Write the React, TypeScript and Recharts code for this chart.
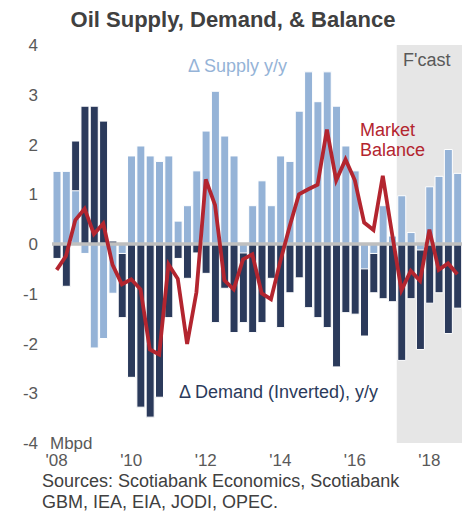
import React from "react";
import {
  ComposedChart,
  Bar,
  Line,
  XAxis,
  YAxis,
  ReferenceLine,
  ReferenceArea,
} from "recharts";

const quarters = [
  "2008Q1", "2008Q2", "2008Q3", "2008Q4",
  "2009Q1", "2009Q2", "2009Q3", "2009Q4",
  "2010Q1", "2010Q2", "2010Q3", "2010Q4",
  "2011Q1", "2011Q2", "2011Q3", "2011Q4",
  "2012Q1", "2012Q2", "2012Q3", "2012Q4",
  "2013Q1", "2013Q2", "2013Q3", "2013Q4",
  "2014Q1", "2014Q2", "2014Q3", "2014Q4",
  "2015Q1", "2015Q2", "2015Q3", "2015Q4",
  "2016Q1", "2016Q2", "2016Q3", "2016Q4",
  "2017Q1", "2017Q2", "2017Q3", "2017Q4",
  "2018Q1", "2018Q2", "2018Q3", "2018Q4",
];

// Δ Supply y/y (Mbpd)
const supply = [
  1.46, 1.46, 1.07, -0.19, -2.09, -1.9, -0.99, -0.19, 1.77, 1.97,
  1.77, 1.66, 1.77, 0.46, 0.77, 1.47, 2.27, 3.07, 2.17, 1.77,
  -0.18, 0.77, 1.27, 0.77, 1.77, 1.66, 2.67, 3.46, 2.86, 3.46,
  2.77, 1.97, 1.47, -0.5, -0.19, 0.77, 0.16, 0.97, 0.23, -0.12,
  1.15, 1.36, 1.9, 1.42,
];

// Δ Demand (Inverted), y/y (Mbpd)
const demandInverted = [
  -0.29, -0.85, 2.07, 2.77, 2.77, 2.47, 0.06, -1.48, -2.68, -3.28,
  -3.48, -3.08, -1.48, -0.29, -0.69, -0.18, -0.59, -1.58, -0.89, -1.78,
  -1.58, -1.78, -1.58, -0.69, -1.68, -0.98, -0.68, -1.28, -1.48, -1.68,
  -2.47, -1.38, -1.41, -1.85, -0.98, -1.1, -1.16, -2.34, -1.1, -2.12,
  -1.19, -0.98, -1.8, -1.29,
];

// Market Balance (Mbpd)
const balance = [
  -0.52, -0.24, 0.48, 0.71, 0.2, 0.41, -0.42, -0.81, -0.71, -0.91,
  -2.12, -2.22, -0.41, -0.7, -2.01, -0.97, 1.3, 0.78, -0.73, -0.91,
  -0.31, -0.21, -0.99, -1.11, -0.35, 0.35, 1.0, 1.1, 1.19, 2.3,
  1.28, 1.7, 1.28, 0.43, 0.28, 1.37, 0.2, -0.93, -0.54, -0.74,
  0.29, -0.52, -0.39, -0.61,
];

const xTickCats = ["2008Q1", "2010Q1", "2012Q1", "2014Q1", "2016Q1", "2018Q1"];
const xTickText = ["'08", "'10", "'12", "'14", "'16", "'18"];
const yTicks = [-4, -3, -2, -1, 0, 1, 2, 3, 4];
const forecastStart = "2017Q2";
const forecastEnd = "2018Q4";

const data = quarters.map((q, i) => ({
  q,
  supply: supply[i],
  demand: demandInverted[i],
  balance: balance[i],
}));

const FONT = "'Liberation Sans', Arial, sans-serif";
const LIGHT = "#95b3d7";
const NAVY = "#2b3a5b";
const RED = "#b3252f";
const GREY_TXT = "#595959";

export default function App() {
  return (
    <div style={{ position: "absolute", left: 0, top: 0, width: 466, height: 517, background: "#fff" }}>
      <ComposedChart
        width={466}
        height={517}
        data={data}
        margin={{ top: 45, right: 4, bottom: 44, left: 0 }}
        barGap={-8}
      >
        <ReferenceArea
          x1={forecastStart}
          x2={forecastEnd}
          y1={-4}
          y2={4}
          fill="#e6e6e6"
          fillOpacity={1}
          stroke="none"
          ifOverflow="extendDomain"
        />
        <XAxis
          dataKey="q"
          ticks={xTickCats}
          interval={0}
          tickFormatter={(v: string) => xTickText[xTickCats.indexOf(v)] ?? ""}
          axisLine={false}
          tickLine={false}
          tickSize={6}
          tickMargin={5}
          height={30}
          tick={{ fill: GREY_TXT, fontSize: 17, fontFamily: FONT }}
        />
        <YAxis
          domain={[-4, 4]}
          ticks={yTicks}
          width={52}
          axisLine={false}
          tickLine={false}
          tickSize={6}
          tickMargin={8}
          interval={0}
          tick={{ fill: GREY_TXT, fontSize: 17, fontFamily: FONT }}
        />
        <Bar dataKey="demand" fill={NAVY} stroke="#ffffff" strokeWidth={1} barSize={8} isAnimationActive={false} />
        <Bar dataKey="supply" fill={LIGHT} stroke="#ffffff" strokeWidth={1} barSize={8} isAnimationActive={false} />
        <ReferenceLine y={0} stroke="#bfbfbf" strokeWidth={3.5} />
        <Line
          type="linear"
          dataKey="balance"
          stroke={RED}
          strokeWidth={3.8}
          dot={false}
          activeDot={false}
          isAnimationActive={false}
        />
      </ComposedChart>
      <svg
        width={466}
        height={517}
        style={{ position: "absolute", left: 0, top: 0, pointerEvents: "none" }}
        fontFamily={FONT}
      >
        <text x={233} y={27} textAnchor="middle" fontSize={22} fontWeight="bold" fill="#404040">
          Oil Supply, Demand, &amp; Balance
        </text>
        <text x={188} y={72} fontSize={18} fill={LIGHT}>Δ Supply y/y</text>
        <text x={403} y={66} fontSize={18} fill={GREY_TXT}>F'cast</text>
        <text x={360} y={136} fontSize={18} fill={RED}>Market</text>
        <text x={360} y={156} fontSize={18} fill={RED}>Balance</text>
        <text x={179} y={398} fontSize={18} fill={NAVY}>Δ Demand (Inverted), y/y</text>
        <text x={50} y={449} fontSize={17} fill={GREY_TXT}>Mbpd</text>
        <text x={42} y={487} fontSize={18} fill="#404040">Sources: Scotiabank Economics, Scotiabank</text>
        <text x={42} y={508} fontSize={18} fill="#404040">GBM, IEA, EIA, JODI, OPEC.</text>
      </svg>
    </div>
  );
}
